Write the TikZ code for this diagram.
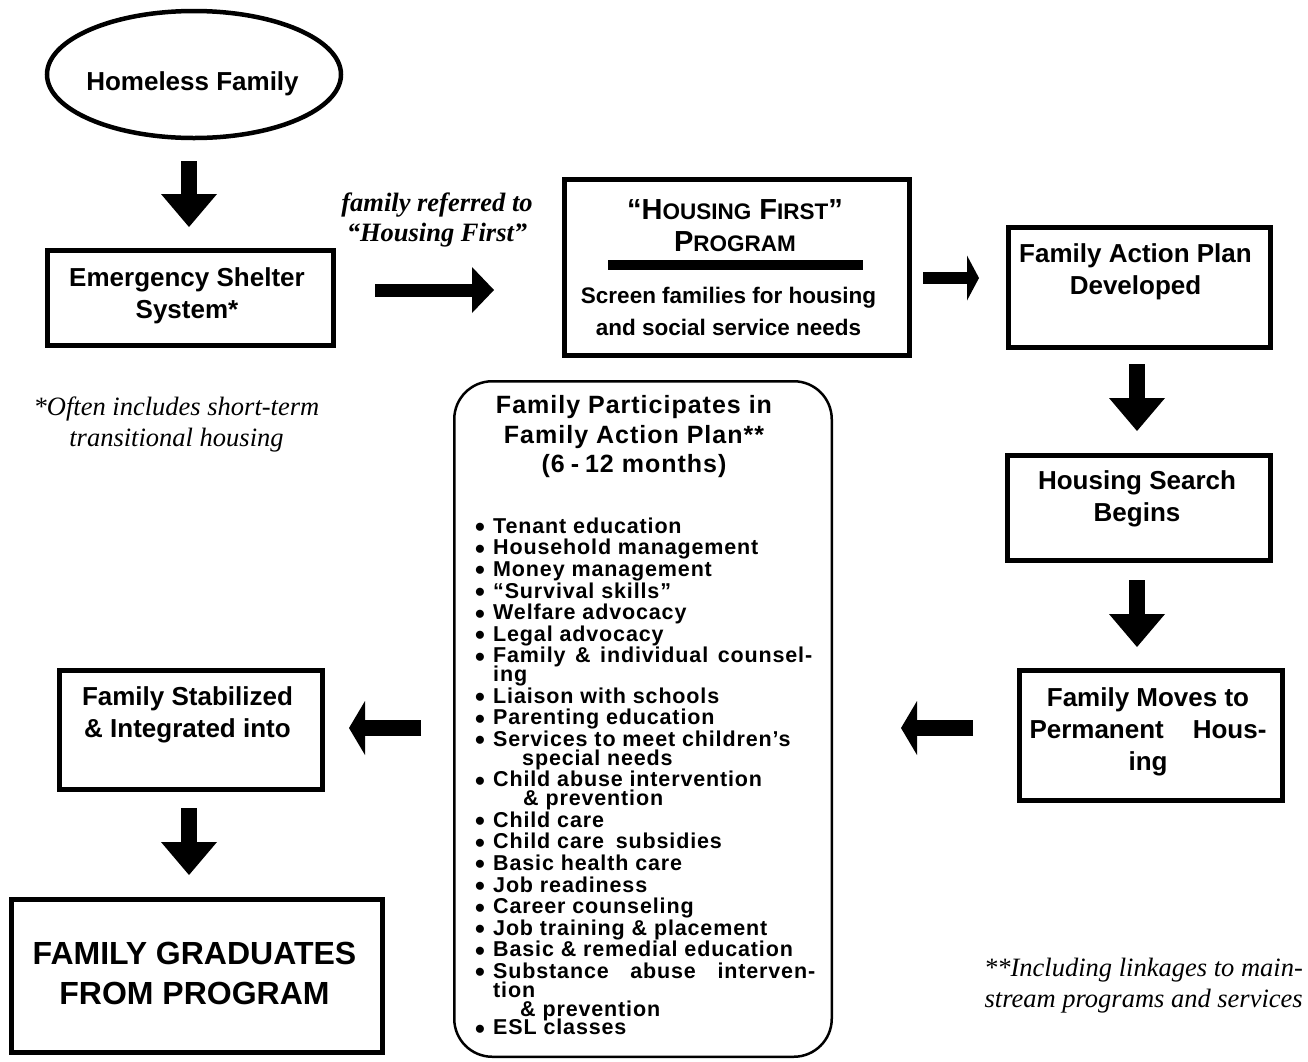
\documentclass[tikz,border=0pt]{standalone}
\usepackage{fontspec}
\setmainfont{Liberation Sans}
\newfontfamily\seriffam{Liberation Serif}
\newfontfamily\listfam{Liberation Sans}[LetterSpace=4]
\newfontfamily\titlefam{Liberation Sans}[LetterSpace=4]
\usetikzlibrary{arrows.meta,shapes.geometric}
\newcommand{\bl}{\makebox[18pt][l]{\raisebox{-3.5pt}{\fontsize{28}{0}\selectfont •}}}
\newcommand{\smcap}[1]{{\fontsize{22.5}{32}\selectfont #1}}
\tikzset{
  box/.style={draw, line width=5pt, rectangle, inner sep=0pt},
  boxtext/.style={font=\bfseries\fontsize{26}{32}\selectfont, align=center, inner sep=0pt},
  note/.style={font=\seriffam\itshape\fontsize{26.5}{31}\selectfont, align=center, inner sep=0pt},
  vdown/.style={line width=16pt, -{Triangle[width=56pt,length=33pt,line width=0pt]}},
  harrowA/.style={line width=13pt, -{Triangle[width=46pt,length=22pt,line width=0pt]}},
  harrowB/.style={line width=12pt, -{Triangle[width=45pt,length=12pt,line width=0pt]}},
  harrowC/.style={line width=16pt, -{Triangle[width=54pt,length=16pt,line width=0pt]}}
}
\begin{document}
\begin{tikzpicture}[x=1pt,y=-1pt]
\useasboundingbox[fill=white] (0,0) rectangle (1308,1061);

% nodes
\node[ellipse, draw, line width=4.5pt, minimum width=294pt, minimum height=127pt, inner sep=0pt] (ell) at (194,74.5) {};
\node[boxtext] (ellt) at (192.5,84) {Homeless Family};

\node[box, minimum width=286pt, minimum height=95pt] (es) at (190.5,298) {};
\node[boxtext] (est) at (187,296) {Emergency Shelter\\System*};

\node[note] (fn1) at (176.5,424.5) {*Often includes short-term\\transitional housing};

\node[note, font=\seriffam\bfseries\itshape\fontsize{26.5}{30}\selectfont] (lbl) at (437,220) {family referred to\\“Housing First”};

\node[box, minimum width=345pt, minimum height=176pt] (hf) at (737,267.5) {};
\node[boxtext, font=\bfseries\fontsize{29}{32}\selectfont] (hft) at (735,226) {“H\smcap{OUSING} F\smcap{IRST}”\\P\smcap{ROGRAM}};
\draw[line width=10pt] ([xshift=-129pt,yshift=2.5pt]hf.center) -- ([xshift=126pt,yshift=2.5pt]hf.center);
\node[boxtext, font=\bfseries\fontsize{22.5}{32}\selectfont] (hfs) at (728.5,311) {Screen families for housing\\and social service needs};

\node[box, minimum width=262pt, minimum height=120pt] (fap) at (1139.5,287.5) {};
\node[boxtext] (fapt) at (1135.5,272) {Family Action Plan\\Developed};

\node[box, minimum width=263pt, minimum height=105pt] (hs) at (1139,508) {};
\node[boxtext] (hst) at (1137,498.5) {Housing Search\\Begins};

\node[box, minimum width=263pt, minimum height=130pt] (fm) at (1151,735.5) {};
\node[boxtext] (fmt) at (1148,732) {Family Moves to\\\makebox[237pt][s]{Permanent Hous-}\\ing};

\node[draw, line width=2.5pt, rounded corners=38pt, minimum width=377.5pt, minimum height=675.5pt, inner sep=0pt] (cb) at (643,719) {};
\node[font=\titlefam\bfseries\fontsize{25}{29.5}\selectfont, align=center, inner sep=0pt] (cbt) at (634,437) {Family Participates in\\Family Action Plan**\\(6\hspace{6pt}-\hspace{6pt}12 months)};
\node[font=\listfam\bfseries\fontsize{21.5}{21.6}\selectfont, align=left, inner sep=0pt, anchor=north west] (cbl) at (475,517.5) {%
\bl Tenant education\\
\bl Household management\\
\bl Money management\\
\bl “Survival skills”\\
\bl Welfare advocacy\\
\bl Legal advocacy\\
\bl\makebox[319pt][s]{Family \& individual counsel-}\\[-2.8pt]
\hspace*{18pt}ing\\
\bl Liaison with schools\\
\bl Parenting education\\
\bl Services to meet children’s\\[-2.8pt]
\hspace*{47pt}special needs\\
\bl Child abuse intervention\\[-2.8pt]
\hspace*{48pt}\& prevention\\
\bl Child care\\
\bl Child care\hspace{5pt} subsidies\\
\bl Basic health care\\
\bl Job readiness\\
\bl Career counseling\\
\bl Job training \& placement\\
\bl Basic \& remedial education\\
\bl\makebox[322pt][s]{Substance abuse interven-}\\[-2.8pt]
\hspace*{18pt}tion\\[-2.8pt]
\hspace*{45pt}\& prevention\\[-2.8pt]
\bl ESL classes};

\node[box, minimum width=263pt, minimum height=119pt] (fs) at (191,730) {};
\node[boxtext] (fst) at (187.5,714.5) {Family Stabilized\\\& Integrated into};

\node[box, minimum width=371pt, minimum height=153pt] (gr) at (197,976) {};
\node[boxtext, font=\bfseries\fontsize{32}{40}\selectfont] (grt) at (194.5,973) {FAMILY GRADUATES\\FROM PROGRAM};

\node[note, align=right, anchor=east] (fn2) at (1303,986) {**Including linkages to main-\\stream programs and services};

% connectors
\coordinate (a1x) at (189,0);
\coordinate (a2y) at (0,290);
\coordinate (a3y) at (0,278);
\coordinate (a4x) at (1137,0);
\coordinate (a6y) at (0,728);

\draw[vdown, shorten <=21pt, shorten >=21pt] (ell.south -| a1x) -- (es.north -| a1x);
\draw[harrowA, shorten <=39pt, shorten >=68pt] (es.east |- a2y) -- (hf.west |- a2y);
\draw[harrowB, shorten <=11pt, shorten >=27pt] (hf.east |- a3y) -- (fap.west |- a3y);
\draw[vdown, shorten <=14pt, shorten >=22pt] (fap.south -| a4x) -- (hs.north -| a4x);
\draw[vdown, shorten <=17pt, shorten >=21pt] (hs.south -| a4x) -- (fm.north -| a4x);
\draw[harrowC, shorten <=44pt, shorten >=68pt] (fm.west |- a6y) -- (cb.east |- a6y);
\draw[harrowC, shorten <=32pt, shorten >=24pt] (cb.west |- a6y) -- (fs.east |- a6y);
\draw[vdown, shorten <=16pt, shorten >=22pt] (fs.south -| a1x) -- (gr.north -| a1x);
\end{tikzpicture}
\end{document}
